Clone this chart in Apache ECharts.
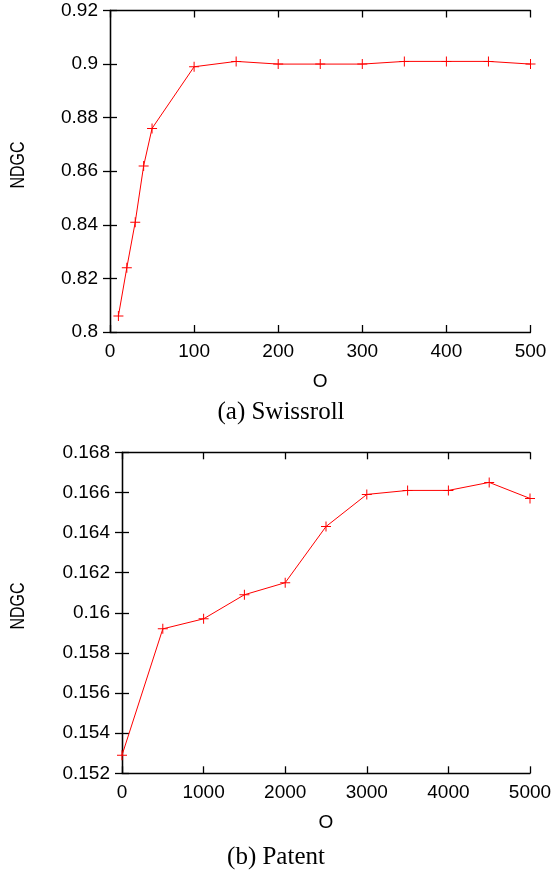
<!DOCTYPE html>
<html>
<head>
<meta charset="utf-8">
<script src="https://cdn.jsdelivr.net/npm/echarts@6/dist/echarts.min.js"></script>
<style>
html,body{margin:0;padding:0;background:#fff;}
#c{width:552px;height:873px;}
</style>
</head>
<body>
<div id="c"></div>
<script>
// Data: (a) Swissroll
const swissX = [10, 20, 30, 40, 50, 100, 150, 200, 250, 300, 350, 400, 450, 500];
const swissY = [0.806, 0.824, 0.841, 0.862, 0.876, 0.899, 0.901, 0.900, 0.900, 0.900, 0.901, 0.901, 0.901, 0.900];
// Data: (b) Patent
const patentX = [0, 500, 1000, 1500, 2000, 2500, 3000, 3500, 4000, 4500, 5000];
const patentY = [0.1529, 0.1592, 0.1597, 0.1609, 0.1615, 0.1643, 0.1659, 0.1661, 0.1661, 0.1665, 0.1657];
// Axis settings
const swissXTicks = {min: 0, max: 500, interval: 100};
const swissYTicks = {min: 0.8, max: 0.92, interval: 0.02};
const patentXTicks = {min: 0, max: 5000, interval: 1000};
const patentYTicks = {min: 0.152, max: 0.168, interval: 0.002};
const captions = ['(a) Swissroll', '(b) Patent'];
const yName = 'NDGC';
const xName = 'O';

const FONT = 'Liberation Sans, Arial, Helvetica, sans-serif';
const plus = 'path://M0,4.5L10,4.5L10,5.5L0,5.5Z M4.5,0L5.5,0L5.5,10L4.5,10Z';

function fmt(v) { return String(parseFloat(v.toFixed(6))); }

function axisCommon(showLabel) {
  return {
    axisLine: {show: true, lineStyle: {color: '#000', width: 1.3}},
    axisTick: {show: true, inside: true, length: 7, lineStyle: {color: '#000', width: 1.3}},
    axisLabel: {show: showLabel, color: '#000', fontFamily: FONT, fontSize: 19, formatter: fmt, hideOverlap: false},
    splitLine: {show: false}
  };
}
function xAxes(gi, t) {
  const b = Object.assign({type: 'value', gridIndex: gi, position: 'bottom',
    name: xName, nameLocation: 'middle', nameGap: 40,
    nameTextStyle: {color: '#000', fontFamily: FONT, fontSize: 19}}, t, axisCommon(true));
  b.axisLabel.margin = 10;
  const tp = Object.assign({type: 'value', gridIndex: gi, position: 'top'}, t, axisCommon(false));
  return [b, tp];
}
function yAxes(gi, t) {
  const l = Object.assign({type: 'value', gridIndex: gi, position: 'left'}, t, axisCommon(true));
  l.axisLabel.margin = 12;
  const r = Object.assign({type: 'value', gridIndex: gi, position: 'right'}, t, axisCommon(false));
  return [l, r];
}

const chart = echarts.init(document.getElementById('c'), null, {renderer: 'canvas'});
chart.setOption({
  animation: false,
  backgroundColor: '#fff',
  grid: [
    {left: 110, top: 10.5, right: 21.5, bottom: 541, containLabel: false, outerBoundsMode: 'none'},
    {left: 122, top: 452.3, right: 22, bottom: 99.7, containLabel: false, outerBoundsMode: 'none'}
  ],
  xAxis: [].concat(xAxes(0, swissXTicks), xAxes(1, patentXTicks)),
  yAxis: [].concat(yAxes(0, swissYTicks), yAxes(1, patentYTicks)),
  series: [
    {type: 'line', xAxisIndex: 0, yAxisIndex: 0,
     data: swissX.map((x, i) => [x, swissY[i]]),
     symbol: plus, symbolSize: 10, showAllSymbol: true,
     lineStyle: {color: '#ff0000', width: 1}, itemStyle: {color: '#ff0000'}},
    {type: 'line', xAxisIndex: 2, yAxisIndex: 2,
     data: patentX.map((x, i) => [x, patentY[i]]),
     symbol: plus, symbolSize: 10, showAllSymbol: true,
     lineStyle: {color: '#ff0000', width: 1}, itemStyle: {color: '#ff0000'}}
  ],
  graphic: [
    {type: 'text', x: 18, y: 165, rotation: Math.PI / 2, scaleX: 0.8,
     style: {text: yName, font: '20px ' + FONT, fill: '#000', align: 'center', verticalAlign: 'middle'}},
    {type: 'text', x: 18, y: 606, rotation: Math.PI / 2, scaleX: 0.8,
     style: {text: yName, font: '20px ' + FONT, fill: '#000', align: 'center', verticalAlign: 'middle'}},
    {type: 'text', x: 281, y: 412,
     style: {text: captions[0], font: '25px "Liberation Serif", "Times New Roman", serif', fill: '#000', align: 'center', verticalAlign: 'middle'}},
    {type: 'text', x: 276, y: 857,
     style: {text: captions[1], font: '25px "Liberation Serif", "Times New Roman", serif', fill: '#000', align: 'center', verticalAlign: 'middle'}}
  ]
});
</script>
</body>
</html>
